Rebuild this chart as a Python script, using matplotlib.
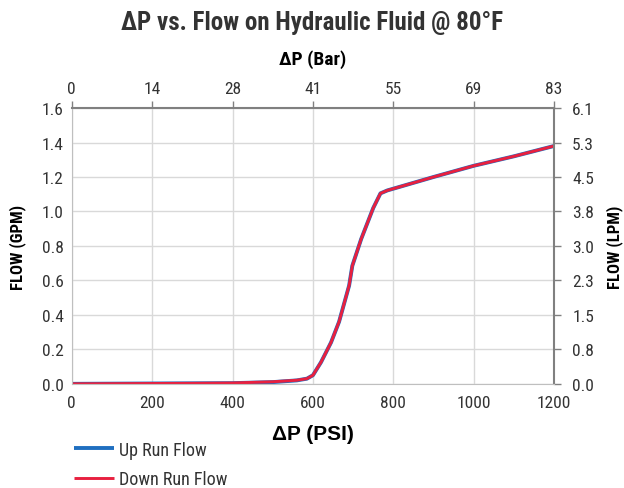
import matplotlib
matplotlib.use("Agg")
import matplotlib.pyplot as plt
from matplotlib import font_manager

# data
psi = [0, 100, 200, 300, 400, 500, 560, 585, 600, 620, 645, 665, 690, 698, 720, 750, 768, 785, 900, 1000, 1100, 1200]
up_flow = [0.0, 0.001, 0.002, 0.003, 0.004, 0.01, 0.02, 0.03, 0.05, 0.125, 0.24, 0.36, 0.57, 0.685, 0.84, 1.02, 1.105, 1.122, 1.20, 1.265, 1.32, 1.38]
down_flow = [0.0, 0.001, 0.002, 0.003, 0.005, 0.012, 0.021, 0.03, 0.05, 0.125, 0.24, 0.36, 0.57, 0.685, 0.84, 1.02, 1.105, 1.122, 1.20, 1.265, 1.32, 1.38]
psi_ticks = [0, 200, 400, 600, 800, 1000, 1200]
gpm_ticks = [0.0, 0.2, 0.4, 0.6, 0.8, 1.0, 1.2, 1.4, 1.6]

PSI_TO_BAR = 0.0689476
GPM_TO_LPM = 3.78541

# pick a condensed face, the original uses a narrow gothic
names = set(f.name for f in font_manager.fontManager.ttflist)
narrow = "DejaVu Sans"
for cand in ["Roboto Condensed", "Barlow Condensed", "PT Sans Narrow", "Archivo Narrow",
             "Liberation Sans Narrow", "Open Sans Condensed"]:
    if cand in names:
        narrow = cand
        break

plt.rcParams["font.family"] = [narrow, "DejaVu Sans"]
plt.rcParams["text.color"] = "#333333"
plt.rcParams["xtick.color"] = "#333333"
plt.rcParams["ytick.color"] = "#333333"

fig = plt.figure(figsize=(6.24, 4.89), dpi=100)
ax = fig.add_axes([0.115, 0.213, 0.773, 0.564])

ax.plot(psi, up_flow, color="#1f6fc0", lw=2.8, solid_capstyle="butt", label="Up Run Flow")
ax.plot(psi, down_flow, color="#e8203f", lw=2.1, solid_capstyle="butt", label="Down Run Flow")

ax.set_xlim(0, 1200)
ax.set_ylim(0, 1.6)
ax.set_xticks(psi_ticks)
ax.set_yticks(gpm_ticks)
ax.set_yticklabels([f"{v:.1f}" for v in gpm_ticks])
ax.grid(True, color="#d9d9d9", lw=1)
ax.set_axisbelow(True)
ax.tick_params(axis="both", length=0, labelsize=12.5, pad=6, labelcolor="#333333")
ax.tick_params(axis="x", pad=8)
for s in ["left", "bottom"]:
    ax.spines[s].set_color("#bfbfbf")
for s in ["top", "right"]:
    ax.spines[s].set_color("#808080")
    ax.spines[s].set_linewidth(1.5)

# secondary axes: bar on top, LPM on the right
top = ax.secondary_xaxis("top", functions=(lambda p: p * PSI_TO_BAR, lambda b: b / PSI_TO_BAR))
top.set_xticks([p * PSI_TO_BAR for p in psi_ticks])
top.set_xticklabels([f"{p * PSI_TO_BAR:.0f}" for p in psi_ticks])
top.tick_params(length=5, width=1, color="#808080", labelsize=12.5, pad=4)
top.spines["top"].set_visible(False)
top.set_xlabel("\u0394P (Bar)", fontsize=14, fontweight="bold", labelpad=12)

right = ax.secondary_yaxis("right", functions=(lambda g: g * GPM_TO_LPM, lambda l: l / GPM_TO_LPM))
right.set_yticks([g * GPM_TO_LPM for g in gpm_ticks])
right.set_yticklabels([f"{g * GPM_TO_LPM:.1f}" for g in gpm_ticks])
right.tick_params(length=5, width=1, color="#808080", labelsize=12.5, pad=8)
right.spines["right"].set_visible(False)
right.set_ylabel("FLOW (LPM)", fontsize=12, fontweight="bold", labelpad=9)

ax.set_ylabel("FLOW (GPM)", fontsize=12, fontweight="bold", labelpad=11)
ax.set_xlabel("\u0394P (PSI)", fontsize=15, fontweight="bold", family=["Liberation Sans", "DejaVu Sans"],
              labelpad=10)

fig.text(0.5, 0.953, "\u0394P vs. Flow on Hydraulic Fluid @ 80\u00b0F", ha="center", va="center",
         fontsize=18, fontweight="bold")

ax.legend(loc="upper left", bbox_to_anchor=(-0.01, -0.18), frameon=False, fontsize=13,
          handlelength=2.2, handletextpad=0.3, labelspacing=0.65, borderaxespad=0)

fig.savefig("out.png", dpi=100)
